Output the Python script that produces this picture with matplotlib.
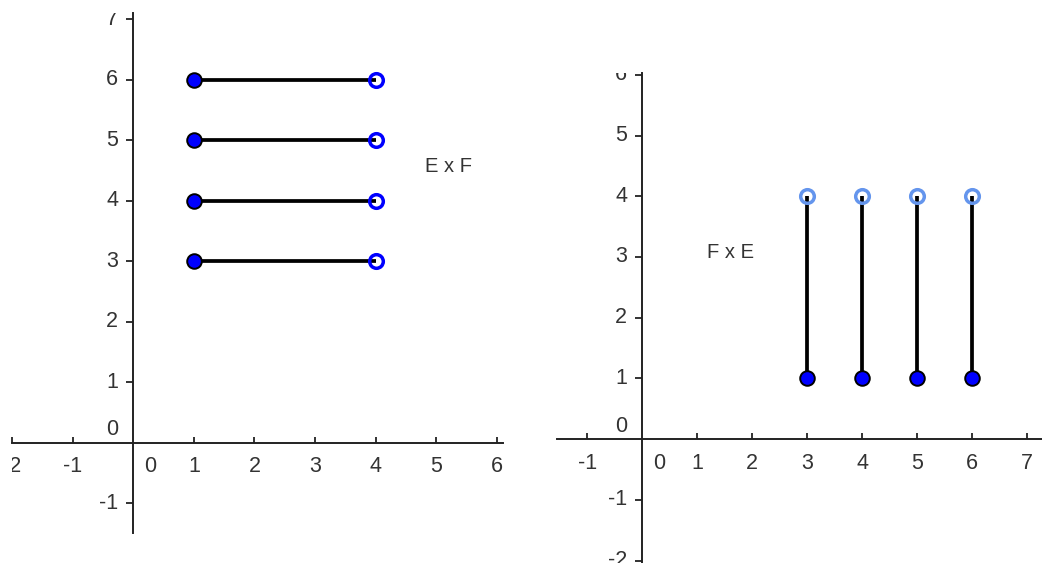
import matplotlib
matplotlib.use('Agg')
import matplotlib.pyplot as plt
from matplotlib.transforms import offset_copy

plt.rcParams['font.family'] = ['Liberation Sans', 'DejaVu Sans']

# E x F : horizontal segments
ef_y = [3, 4, 5, 6]
ef_x_from = [1, 1, 1, 1]
ef_x_to = [4, 4, 4, 4]

# F x E : vertical segments
fe_x = [3, 4, 5, 6]
fe_y_from = [1, 1, 1, 1]
fe_y_to = [4, 4, 4, 4]

left_xticks = [-2, -1, 1, 2, 3, 4, 5, 6]
left_yticks = [-1, 1, 2, 3, 4, 5, 6, 7]
right_xticks = [-1, 1, 2, 3, 4, 5, 6, 7]
right_yticks = [-2, -1, 1, 2, 3, 4, 5, 6]

W, H = 1042, 563
fig = plt.figure(figsize=(W / 100, H / 100), dpi=100)
txt = '#333333'
axc = '#222222'


def axes_px(x0, x1, y0, y1):
    return fig.add_axes([x0 / W, 1 - y1 / H, (x1 - x0) / W, (y1 - y0) / H])


def setup(ax, xlim, ylim, xticks, yticks):
    ax.set_xlim(xlim)
    ax.set_ylim(ylim)
    ax.patch.set_visible(False)
    for s in ['top', 'right']:
        ax.spines[s].set_visible(False)
    for s in ['left', 'bottom']:
        ax.spines[s].set_position(('data', 0))
        ax.spines[s].set_linewidth(1.4)
        ax.spines[s].set_color(axc)
    ax.set_xticks(xticks)
    ax.set_yticks(yticks)
    ax.tick_params(axis='x', direction='in', length=4, width=1.3, color=axc, labelbottom=False)
    ax.tick_params(axis='y', direction='out', length=5, width=1.3, color=axc, labelleft=False)
    xt = offset_copy(ax.transData, fig=fig, x=0, y=-24, units='dots')
    for v in xticks:
        ax.text(v, 0, str(v), transform=xt, ha='center', va='center',
                fontsize=15.5, color=txt, clip_on=True)
    yt = offset_copy(ax.transData, fig=fig, x=-15, y=0, units='dots')
    for v in yticks:
        ax.text(0, v, str(v), transform=yt, ha='right', va='center',
                fontsize=15.5, color=txt, clip_on=True)
    # origin labels
    ax.text(0, 0, '0', transform=offset_copy(ax.transData, fig=fig, x=11, y=-24, units='dots'),
            ha='left', va='center', fontsize=15.5, color=txt)
    ax.text(0, 0, '0', transform=offset_copy(ax.transData, fig=fig, x=-15, y=13, units='dots'),
            ha='right', va='center', fontsize=15.5, color=txt)


# left panel
ax1 = axes_px(12, 503, 13, 533)
setup(ax1, (-2.0, 6.1), (-1.49, 7.1), left_xticks, left_yticks)
for x0, x1, y in zip(ef_x_from, ef_x_to, ef_y):
    ax1.plot([x0, x1], [y, y], color='black', lw=2.7, solid_capstyle='butt', zorder=3)
ax1.plot(ef_x_from, ef_y, 'o', ms=10.5, mfc='#0000FF', mec='black', mew=1.4, zorder=4)
ax1.plot(ef_x_to, ef_y, 'o', ms=9.8, mfc='none', mec='#0000FF', mew=2.5, zorder=4)
ax1.text(4.81, 4.56, 'E x F', ha='left', va='center', fontsize=14.5, color=txt)

# right panel
ax2 = axes_px(557, 1042, 73, 563)
setup(ax2, (-1.55, 7.27), (-2.04, 6.03), right_xticks, right_yticks)
for x, y0, y1 in zip(fe_x, fe_y_from, fe_y_to):
    ax2.plot([x, x], [y0, y1], color='black', lw=2.7, solid_capstyle='butt', zorder=3)
ax2.plot(fe_x, fe_y_from, 'o', ms=10.5, mfc='#0000FF', mec='black', mew=1.4, zorder=4)
ax2.plot(fe_x, fe_y_to, 'o', ms=9.8, mfc='none', mec='#6495ED', mew=2.5, zorder=4)
ax2.text(1.18, 3.08, 'F x E', ha='left', va='center', fontsize=14.5, color=txt)

fig.savefig('out.png', dpi=100)
